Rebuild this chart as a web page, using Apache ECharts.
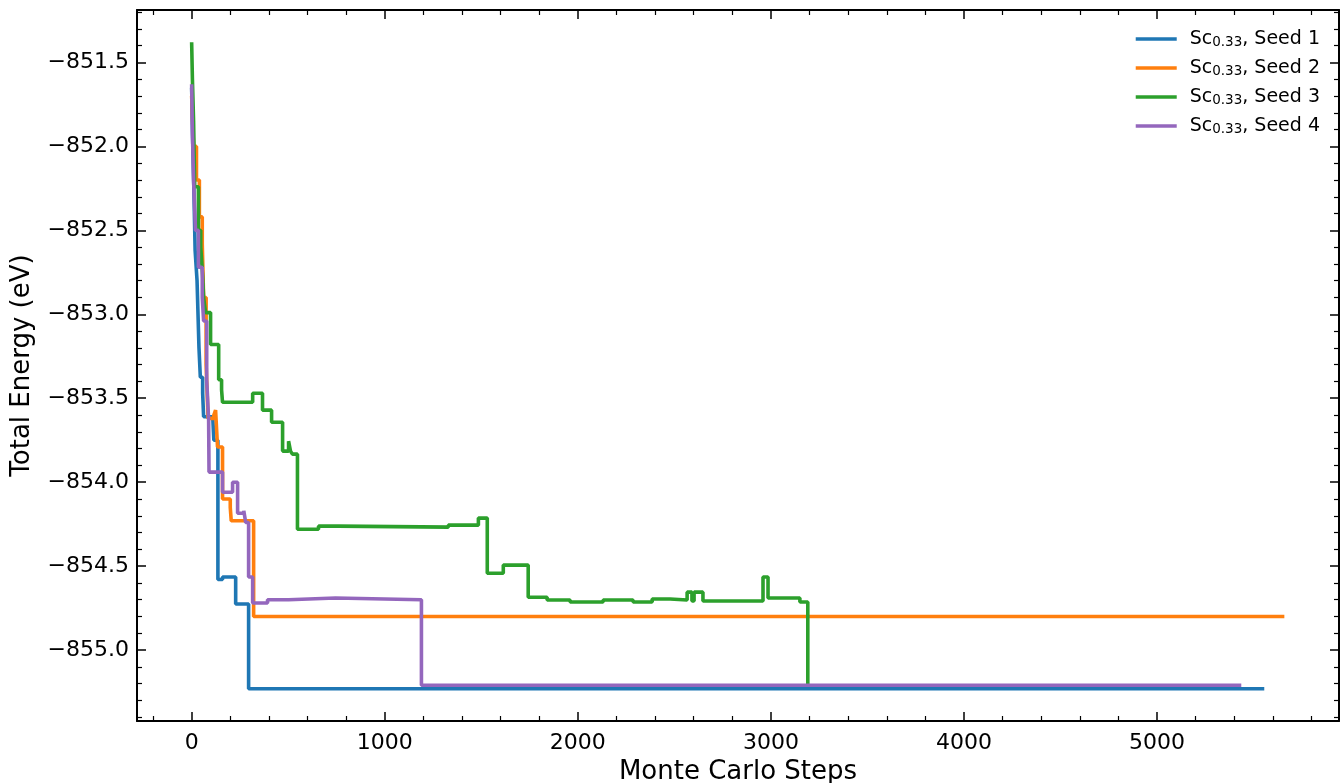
<!DOCTYPE html>
<html>
<head>
<meta charset="utf-8">
<script src="https://cdn.jsdelivr.net/npm/echarts@6/dist/echarts.min.js"></script>
<style>
  html, body { margin: 0; padding: 0; background: #fff; }
  #chart { width: 1343px; height: 783px; }
</style>
</head>
<body>
<div id="chart"></div>
<script>
// Monte Carlo step at which each energy value starts (steps-post)
const seed1Steps  = [0, 5, 12, 18, 28, 38, 45, 57, 62, 110, 115, 136, 160, 228, 295, 5555];
const seed1Energy = [-851.65, -851.95, -852.28, -852.62, -852.8, -853.2, -853.375, -853.47, -853.61, -853.63, -853.75, -854.58, -854.565, -854.726, -855.23, -855.23];

const seed2Steps  = [0, 10, 25, 40, 55, 62, 75, 85, 115, 124, 134, 160, 200, 205, 321, 5659];
const seed2Energy = [-851.7, -852.0, -852.2, -852.42, -852.58, -852.9, -853.3, -853.62, -853.6, -853.57, -853.79, -854.1, -854.15, -854.23, -854.8, -854.8];

const seed3Steps  = [0, 4, 10, 16, 35, 47, 57, 62, 72, 98, 140, 155, 160, 316, 367, 414, 471, 502, 512, 522, 548, 657, 760, 1329, 1485, 1531, 1614, 1743, 1841, 1960, 2131, 2286, 2385, 2478, 2566, 2591, 2602, 2648, 2959, 2985, 3150, 3191];
const seed3Energy = [-851.38, -851.6, -851.85, -852.24, -852.5, -852.6, -852.77, -852.9, -852.99, -853.18, -853.39, -853.45, -853.524, -853.47, -853.571, -853.643, -853.815, -853.756, -853.815, -853.833, -854.28, -854.262, -854.268, -854.256, -854.214, -854.542, -854.494, -854.685, -854.702, -854.714, -854.702, -854.714, -854.696, -854.702, -854.655, -854.708, -854.655, -854.708, -854.565, -854.69, -854.714, -855.22];

const seed4Steps  = [0, 4, 10, 20, 35, 55, 62, 78, 88, 90, 160, 212, 238, 270, 280, 295, 316, 393, 502, 745, 1190, 5436];
const seed4Energy = [-851.63, -851.92, -852.2, -852.5, -852.72, -852.9, -853.04, -853.39, -853.63, -853.94, -854.06, -854.0, -854.185, -854.17, -854.24, -854.565, -854.72, -854.70, -854.69, -854.70, -855.21, -855.21];

const seedNames = ['Seed 1', 'Seed 2', 'Seed 3', 'Seed 4'];
const seedColors = ['#1f77b4', '#ff7f0e', '#2ca02c', '#9467bd'];

const FONT = 'DejaVu Sans';
const minus = v => (v < 0 ? '\u2212' : '') + Math.abs(v);

const chart = echarts.init(document.getElementById('chart'));

const pairs = (xs, ys) => xs.map((x, i) => [x, ys[i]]);
const allSteps = [seed1Steps, seed2Steps, seed3Steps, seed4Steps];
const allEnergy = [seed1Energy, seed2Energy, seed3Energy, seed4Energy];

const xMin = -283, xMax = 5942;
const yMin = -855.4225, yMax = -851.1875;

const axisCommon = {
  axisLine: { show: true, onZero: false, lineStyle: { color: '#000', width: 2 } },
  axisTick: { show: true, inside: true, length: 9, lineStyle: { color: '#000', width: 1.5 } },
  minorTick: { show: true, splitNumber: 5, length: 5, lineStyle: { color: '#000', width: 1.2 } },
  splitLine: { show: false },
};

const option = {
  animation: false,
  backgroundColor: '#fff',
  textStyle: { fontFamily: FONT },
  grid: { left: 137, right: 4, top: 10, bottom: 62, outerBoundsMode: 'none', containLabel: false },
  legend: {
    orient: 'vertical',
    right: 18,
    top: 23,
    icon: 'rect',
    itemWidth: 41,
    itemHeight: 3.5,
    itemGap: 8,
    data: seedNames,
    formatter: name => '{g|}{a|Sc}{b|0.33}{a|, ' + name + '}',
    textStyle: {
      rich: {
        g: { width: 8, lineHeight: 20 },
        a: { fontFamily: FONT, fontSize: 19, color: '#000', lineHeight: 20 },
        b: { fontFamily: FONT, fontSize: 13.5, color: '#000', verticalAlign: 'bottom', padding: [7, 0, 0, 0], lineHeight: 20 }
      }
    }
  },
  xAxis: [
    Object.assign({}, axisCommon, {
      type: 'value', position: 'bottom', min: xMin, max: xMax, splitNumber: 6,
      name: 'Monte Carlo Steps', nameLocation: 'middle', nameGap: 37,
      nameTextStyle: { fontFamily: FONT, fontSize: 26, color: '#000' },
      axisLabel: { show: true, margin: 11, fontFamily: FONT, fontSize: 22, color: '#000',
        showMinLabel: false, showMaxLabel: false, formatter: minus }
    }),
    Object.assign({}, axisCommon, {
      type: 'value', position: 'top', min: xMin, max: xMax, splitNumber: 6,
      axisLabel: { show: false }
    })
  ],
  yAxis: [
    Object.assign({}, axisCommon, {
      type: 'value', position: 'left', min: yMin, max: yMax, splitNumber: 8,
      name: 'Total Energy (eV)', nameLocation: 'middle', nameGap: 102,
      nameTextStyle: { fontFamily: FONT, fontSize: 26, color: '#000' },
      axisLabel: { show: true, margin: 8, fontFamily: FONT, fontSize: 22, color: '#000',
        showMinLabel: false, showMaxLabel: false,
        formatter: v => minus(Number(v.toFixed(1))).replace(/^(\u2212?\d+)$/, '$1.0') }
    }),
    Object.assign({}, axisCommon, {
      type: 'value', position: 'right', min: yMin, max: yMax, splitNumber: 8,
      axisLabel: { show: false }
    })
  ],
  series: seedNames.map((name, i) => ({
    name,
    type: 'line',
    step: 'end',
    xAxisIndex: 0,
    yAxisIndex: 0,
    showSymbol: false,
    symbol: 'none',
    color: seedColors[i],
    lineStyle: { color: seedColors[i], width: 3.6 },
    data: pairs(allSteps[i], allEnergy[i])
  }))
};

chart.setOption(option);
</script>
</body>
</html>
